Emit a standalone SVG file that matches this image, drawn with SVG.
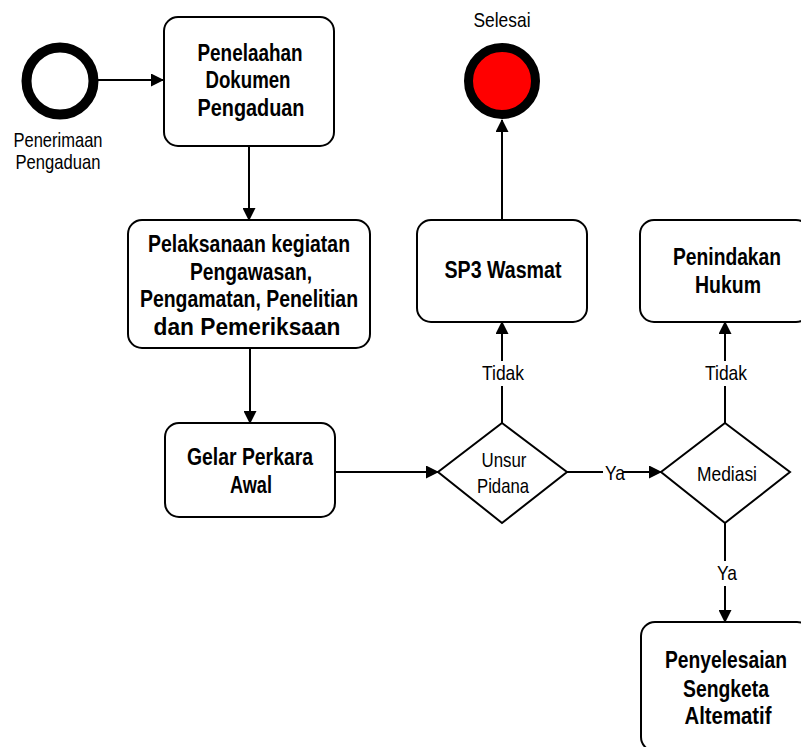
<svg xmlns="http://www.w3.org/2000/svg" width="801" height="747" viewBox="0 0 801 747">
  <style>
    .box { fill: #ffffff; stroke: #000000; stroke-width: 2; }
    .dec { fill: #ffffff; stroke: #000000; stroke-width: 2; }
    .edge { fill: none; stroke: #000000; stroke-width: 2; }
    .bold { font-family: "Liberation Sans", Arial, sans-serif; font-weight: bold; font-size: 23px; text-anchor: middle; fill: #000000; }
    .reg { font-family: "Liberation Sans", Arial, sans-serif; font-size: 21px; text-anchor: middle; fill: #000000; }
    .lbl-bg { fill: #ffffff; stroke: none; }
  </style>
  <defs>
    <marker id="arrow" viewBox="0 0 13 13" refX="12" refY="6.5" markerWidth="13" markerHeight="13" markerUnits="userSpaceOnUse" orient="auto">
      <path d="M0,0 L13,6.5 L0,13 Z" fill="#000000"/>
    </marker>
  </defs>

  <!-- connectors -->
  <g id="connectors">
    <path class="edge" d="M98,80 L163,80" marker-end="url(#arrow)"/>
    <path class="edge" d="M249,146 L249,220" marker-end="url(#arrow)"/>
    <path class="edge" d="M250,348 L250,423" marker-end="url(#arrow)"/>
    <path class="edge" d="M335,472 L438,472" marker-end="url(#arrow)"/>
    <path class="edge" d="M502,423 L502,322" marker-end="url(#arrow)"/>
    <path class="edge" d="M502,220 L502,120" marker-end="url(#arrow)"/>
    <path class="edge" d="M567,472 L661,472" marker-end="url(#arrow)"/>
    <path class="edge" d="M725,423 L725,322" marker-end="url(#arrow)"/>
    <path class="edge" d="M725,523 L725,622" marker-end="url(#arrow)"/>
    <!-- edge labels -->
    <rect class="lbl-bg" x="482" y="361" width="42" height="25"/>
    <text class="reg" x="503" y="380" textLength="42" lengthAdjust="spacingAndGlyphs">Tidak</text>
    <rect class="lbl-bg" x="705" y="361" width="42" height="25"/>
    <text class="reg" x="726" y="380" textLength="42" lengthAdjust="spacingAndGlyphs">Tidak</text>
    <rect class="lbl-bg" x="603" y="462" width="20" height="20"/>
    <text class="reg" x="615" y="480" textLength="20" lengthAdjust="spacingAndGlyphs">Ya</text>
    <rect class="lbl-bg" x="714" y="561" width="24" height="25"/>
    <text class="reg" x="727" y="580" textLength="20" lengthAdjust="spacingAndGlyphs">Ya</text>
  </g>

  <!-- start event -->
  <g id="start">
    <circle cx="60" cy="81" r="33.5" fill="#ffffff" stroke="#000000" stroke-width="10"/>
    <text class="reg" x="58" y="147" textLength="89" lengthAdjust="spacingAndGlyphs">Penerimaan</text>
    <text class="reg" x="58" y="169" textLength="85" lengthAdjust="spacingAndGlyphs">Pengaduan</text>
  </g>

  <!-- end event -->
  <g id="end">
    <text class="reg" x="502" y="27" textLength="57" lengthAdjust="spacingAndGlyphs">Selesai</text>
    <circle cx="502" cy="81" r="33.5" fill="#ff0000" stroke="#000000" stroke-width="9"/>
  </g>

  <g id="penelaahan">
    <rect class="box" x="164" y="17" width="170" height="129" rx="14"/>
    <text class="bold" x="250" y="61" textLength="105" lengthAdjust="spacingAndGlyphs">Penelaahan</text>
    <text class="bold" x="248" y="88" textLength="85" lengthAdjust="spacingAndGlyphs">Dokumen</text>
    <text class="bold" x="251" y="116" textLength="107" lengthAdjust="spacingAndGlyphs">Pengaduan</text>
  </g>

  <g id="pelaksanaan">
    <rect class="box" x="128" y="220" width="242" height="128" rx="14"/>
    <text class="bold" x="249" y="252" textLength="202" lengthAdjust="spacingAndGlyphs">Pelaksanaan kegiatan</text>
    <text class="bold" x="251" y="280" textLength="122" lengthAdjust="spacingAndGlyphs">Pengawasan,</text>
    <text class="bold" x="249" y="307" textLength="218" lengthAdjust="spacingAndGlyphs">Pengamatan, Penelitian</text>
    <text class="bold" x="247" y="335" textLength="187" lengthAdjust="spacingAndGlyphs">dan Pemeriksaan</text>
  </g>

  <g id="gelar">
    <rect class="box" x="165" y="423" width="170" height="94" rx="14"/>
    <text class="bold" x="250" y="465" textLength="126" lengthAdjust="spacingAndGlyphs">Gelar Perkara</text>
    <text class="bold" x="251" y="493" textLength="42" lengthAdjust="spacingAndGlyphs">Awal</text>
  </g>

  <g id="unsur-pidana">
    <path class="dec" d="M502,423 L567,472 L502,523 L438,472 Z"/>
    <text class="reg" x="504" y="467" textLength="45" lengthAdjust="spacingAndGlyphs">Unsur</text>
    <text class="reg" x="503" y="493" textLength="52" lengthAdjust="spacingAndGlyphs">Pidana</text>
  </g>

  <g id="mediasi">
    <path class="dec" d="M725,423 L790,472 L725,523 L661,472 Z"/>
    <text class="reg" x="727" y="481" textLength="60" lengthAdjust="spacingAndGlyphs">Mediasi</text>
  </g>

  <g id="sp3-wasmat">
    <rect class="box" x="417" y="220" width="170" height="102" rx="14"/>
    <text class="bold" x="503" y="278" textLength="117" lengthAdjust="spacingAndGlyphs">SP3 Wasmat</text>
  </g>

  <g id="penindakan">
    <rect class="box" x="640" y="220" width="170" height="102" rx="14"/>
    <text class="bold" x="727" y="265" textLength="108" lengthAdjust="spacingAndGlyphs">Penindakan</text>
    <text class="bold" x="728" y="293" textLength="66" lengthAdjust="spacingAndGlyphs">Hukum</text>
  </g>

  <g id="penyelesaian">
    <rect class="box" x="641" y="622" width="170" height="129" rx="14"/>
    <text class="bold" x="726" y="668" textLength="122" lengthAdjust="spacingAndGlyphs">Penyelesaian</text>
    <text class="bold" x="726" y="697" textLength="86" lengthAdjust="spacingAndGlyphs">Sengketa</text>
    <text class="bold" x="728" y="724" textLength="87" lengthAdjust="spacingAndGlyphs">Altematif</text>
  </g>
</svg>
